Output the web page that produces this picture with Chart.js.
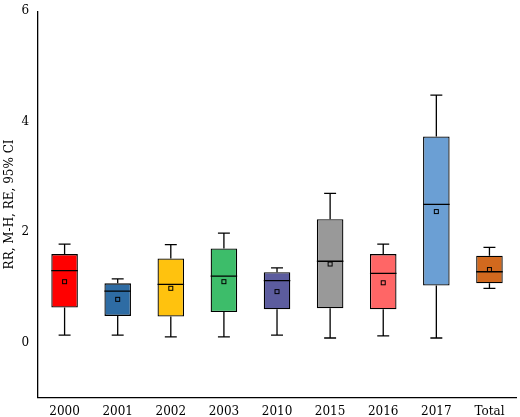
<!DOCTYPE html>
<html><head><meta charset="utf-8">
<script src="https://cdn.jsdelivr.net/npm/chart.js@4"></script>
<style>html,body{margin:0;padding:0;background:#fff}#w{width:520px;height:417px}</style>
</head><body><div id="w"><canvas id="c"></canvas></div>
<script>
const categories=['2000','2001','2002','2003','2010','2015','2016','2017','Total'];
const whiskerLow=[0.13,0.13,0.10,0.10,0.13,0.08,0.12,0.08,0.98];
const whiskerHigh=[1.78,1.15,1.77,1.98,1.35,2.70,1.78,4.48,1.72];
const q1=[0.63,0.48,0.47,0.55,0.60,0.62,0.60,1.03,1.07];
const q3=[1.60,1.07,1.52,1.70,1.27,2.23,1.60,3.73,1.57];
const medians=[1.30,0.93,1.05,1.20,1.12,1.47,1.25,2.50,1.28];
const means=[1.10,0.78,0.98,1.10,0.92,1.42,1.08,2.37,1.32];
const colors=['#ff0000','#2e6ca4','#ffc20e','#3dbd6a','#5c5c9e','#999999','#ff6666','#6b9fd4','#d2691e'];
const yTicks=[0,2,4,6];

const boxPlugin={id:'boxExtras',afterDatasetsDraw(chart){
  const ctx=chart.ctx,x=chart.scales.x,y=chart.scales.y;
  const meta=chart.getDatasetMeta(0);
  ctx.save();ctx.strokeStyle='#000';ctx.lineWidth=1.3;
  meta.data.forEach((bar,i)=>{
    const cx=bar.x,hw=bar.width/2,cap=hw*0.45;
    const yl=y.getPixelForValue(whiskerLow[i]),yh=y.getPixelForValue(whiskerHigh[i]);
    const b1=y.getPixelForValue(q1[i]),b3=y.getPixelForValue(q3[i]);
    ctx.beginPath();
    ctx.moveTo(cx,b3);ctx.lineTo(cx,yh);ctx.moveTo(cx-cap,yh);ctx.lineTo(cx+cap,yh);
    ctx.moveTo(cx,b1);ctx.lineTo(cx,yl);ctx.moveTo(cx-cap,yl);ctx.lineTo(cx+cap,yl);
    const ym=y.getPixelForValue(medians[i]);
    ctx.moveTo(cx-hw,ym);ctx.lineTo(cx+hw,ym);
    ctx.stroke();
    const ya=y.getPixelForValue(means[i]);
    ctx.lineWidth=1;ctx.strokeRect(cx-2,ya-2,4,4);ctx.lineWidth=1.3;
  });
  ctx.restore();
}};

new Chart(document.getElementById('c'),{
  type:'bar',
  data:{labels:categories,datasets:[{
    data:categories.map((_,i)=>[q1[i],q3[i]]),
    backgroundColor:colors,borderColor:'#000',borderWidth:1.3,borderSkipped:false,
    barPercentage:0.5,categoryPercentage:1
  }]},
  options:{responsive:true,maintainAspectRatio:false,animation:false,
    layout:{padding:{top:0,right:4,left:3,bottom:-4}},
    plugins:{legend:{display:false},tooltip:{enabled:false}},
    scales:{
      x:{grid:{display:false,drawTicks:true,tickLength:5,offset:true,color:'#000'},
         border:{color:'#000',width:1.3},
         ticks:{color:'#000',font:{family:'DejaVu Serif',size:12},padding:2}},
      y:{min:-1,max:6,
         afterBuildTicks(s){s.ticks=yTicks.map(v=>({value:v}));},
         grid:{display:false,drawTicks:true,tickLength:5,color:'#000'},
         border:{color:'#000',width:1.3},
         ticks:{color:'#000',font:{family:'DejaVu Serif',size:12},padding:4},
         title:{display:true,text:'RR, M-H, RE, 95% CI',color:'#000',font:{family:'DejaVu Serif',size:12},padding:0}}
    }
  },
  plugins:[boxPlugin]
});
</script></body></html>
